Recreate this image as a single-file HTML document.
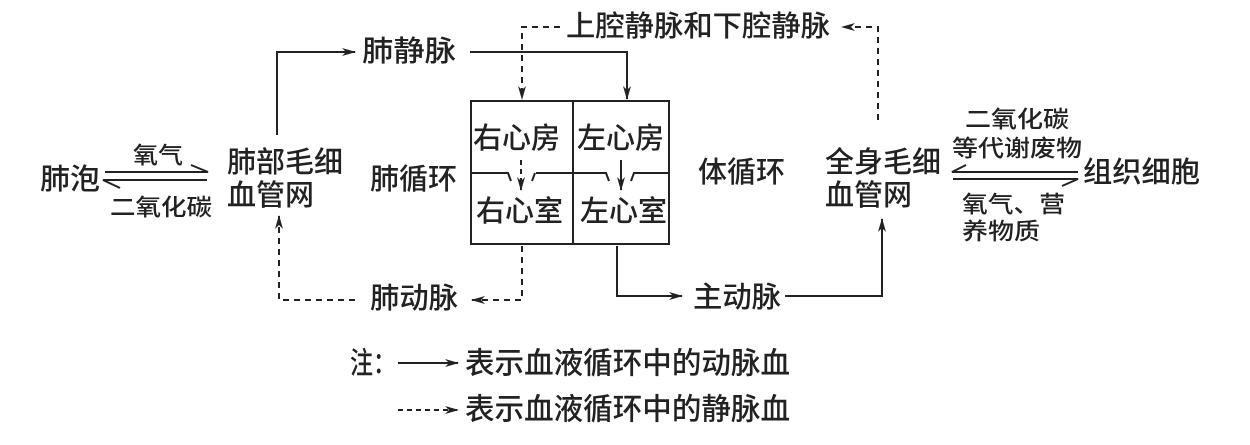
<!DOCTYPE html>
<html><head><meta charset="utf-8"><style>
html,body{margin:0;padding:0;background:#fff;}
svg{display:block}
text{font-family:"Liberation Sans","Noto Sans CJK SC",sans-serif;fill:#222;dominant-baseline:central;font-weight:500}
</style></head><body>
<svg width="1250" height="445" viewBox="0 0 1250 445" xmlns="http://www.w3.org/2000/svg">
<defs>
<marker id="a" markerWidth="14" markerHeight="8" refX="13" refY="4" orient="auto" markerUnits="userSpaceOnUse">
<path d="M0,0 L14,4 L0,8 L4,4 Z" fill="#222"/></marker>
</defs>
<g stroke="#222" stroke-width="2" fill="none">
<rect x="471" y="101" width="198" height="143"/>
<line x1="573" y1="101" x2="573" y2="244"/>
<path d="M471,173 H508 L511,181"/>
<path d="M536,173 H573 H606 L609,181"/>
<path d="M532,181 L535,173"/>
<path d="M631,181 L634,173 H669"/>
<line x1="521" y1="160" x2="521" y2="190" stroke-dasharray="5,4" marker-end="url(#a)"/>
<line x1="621" y1="160" x2="621" y2="190" marker-end="url(#a)"/>
<path d="M277,135 V52 H355" marker-end="url(#a)"/>
<path d="M470,52 H627 V99" marker-end="url(#a)"/>
<path d="M878,120 V27 H842" stroke-dasharray="6,5" marker-end="url(#a)"/>
<path d="M560,27 H522 V99" stroke-dasharray="6,5" marker-end="url(#a)"/>
<path d="M522,246 V300 H472" stroke-dasharray="6,5" marker-end="url(#a)"/>
<path d="M355,300 H279 V216" stroke-dasharray="6,5" marker-end="url(#a)"/>
<path d="M617,246 V296 H682" marker-end="url(#a)"/>
<path d="M785,296 H882 V219" marker-end="url(#a)"/>
<path d="M105,172 H208 L191,165"/>
<path d="M207,180 H103 L120,188"/>
<path d="M1078,172 H952 L966,165"/>
<path d="M953,179 H1078 L1062,186"/>
<line x1="398" y1="363" x2="458" y2="363" marker-end="url(#a)"/>
<line x1="398" y1="410" x2="458" y2="410" stroke-dasharray="5,4" marker-end="url(#a)"/>
</g>
<g font-size="29">
<text x="40" y="180" textLength="60" lengthAdjust="spacingAndGlyphs">肺泡</text>
<text x="227" y="163" textLength="116" lengthAdjust="spacingAndGlyphs">肺部毛细</text>
<text x="227" y="196" textLength="87" lengthAdjust="spacingAndGlyphs">血管网</text>
<text x="370" y="180" textLength="87" lengthAdjust="spacingAndGlyphs">肺循环</text>
<text x="362" y="52" textLength="94" lengthAdjust="spacingAndGlyphs">肺静脉</text>
<text x="566" y="27" textLength="264" lengthAdjust="spacingAndGlyphs">上腔静脉和下腔静脉</text>
<text x="473" y="139" textLength="87" lengthAdjust="spacingAndGlyphs">右心房</text>
<text x="577" y="139" textLength="87" lengthAdjust="spacingAndGlyphs">左心房</text>
<text x="476" y="212" textLength="87" lengthAdjust="spacingAndGlyphs">右心室</text>
<text x="580" y="212" textLength="87" lengthAdjust="spacingAndGlyphs">左心室</text>
<text x="698" y="173" textLength="87" lengthAdjust="spacingAndGlyphs">体循环</text>
<text x="370" y="299" textLength="88" lengthAdjust="spacingAndGlyphs">肺动脉</text>
<text x="693" y="298" textLength="88" lengthAdjust="spacingAndGlyphs">主动脉</text>
<text x="825" y="163" textLength="116" lengthAdjust="spacingAndGlyphs">全身毛细</text>
<text x="825" y="196" textLength="87" lengthAdjust="spacingAndGlyphs">血管网</text>
<text x="1083" y="173" textLength="117" lengthAdjust="spacingAndGlyphs">组织细胞</text>
</g>
<g font-size="23">
<text x="133" y="155" textLength="50" lengthAdjust="spacingAndGlyphs">氧气</text>
<text x="110" y="207" textLength="102" lengthAdjust="spacingAndGlyphs">二氧化碳</text>
<text x="965" y="119" textLength="104" lengthAdjust="spacingAndGlyphs">二氧化碳</text>
<text x="952" y="148" textLength="130" lengthAdjust="spacingAndGlyphs">等代谢废物</text>
<text x="962" y="204" textLength="103" lengthAdjust="spacingAndGlyphs">氧气、营</text>
<text x="962" y="231" textLength="78" lengthAdjust="spacingAndGlyphs">养物质</text>
</g>
<g font-size="30">
<text x="350" y="364" textLength="46" lengthAdjust="spacingAndGlyphs">注：</text>
<text x="465" y="364" textLength="325" lengthAdjust="spacingAndGlyphs">表示血液循环中的动脉血</text>
<text x="465" y="410" textLength="325" lengthAdjust="spacingAndGlyphs">表示血液循环中的静脉血</text>
</g>
</svg>
</body></html>
